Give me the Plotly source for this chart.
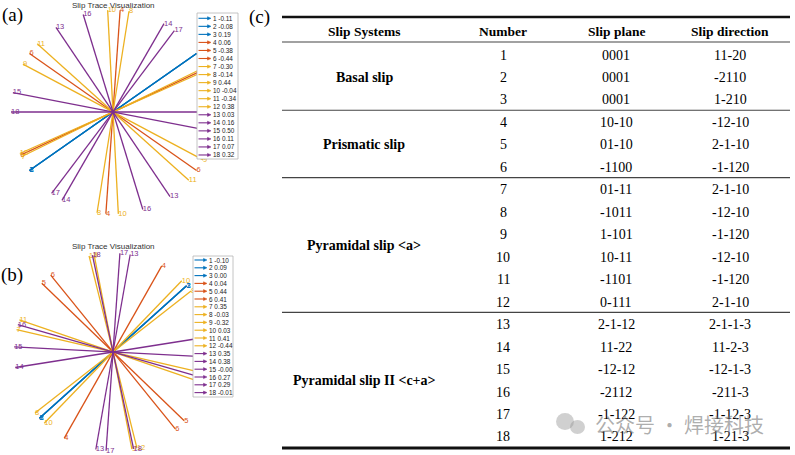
import numpy as np
import plotly.graph_objects as go

W, H = 795, 455

# ---------------- data ----------------
systems = [str(i) for i in range(1, 19)]
family = ["basal"] * 3 + ["prism"] * 3 + ["pyr_a"] * 6 + ["pyr_ca"] * 6
family_colors = {"basal": "#0072BD", "prism": "#D95319", "pyr_a": "#EDB120", "pyr_ca": "#7E2F8E"}

# trace angles (deg) (a) and (b)
angles_a = [35, 35, 35, 86, 25, 145, 26, 81, 152, 93, 138, 24, 124, 60, 169, 107, 53, 180]
schmid_a = ["-0.11", "-0.08", "0.19", "0.06", "-0.38", "-0.44", "-0.30", "-0.14", "0.44",
            "-0.04", "-0.34", "0.38", "0.03", "0.16", "0.50", "0.11", "0.07", "0.32"]
angles_b = [42, 42, 42, 60.5, 136, 129, 167, 38, 101, 46, 161, 104, 80, 9, 177, 164, 86, 102]
schmid_b = ["-0.10", "0.09", "0.00", "0.04", "0.44", "0.41", "0.35", "-0.03", "-0.32",
            "0.03", "0.41", "-0.44", "0.35", "0.38", "-0.00", "0.27", "0.29", "-0.01"]

table_header = ["Slip Systems", "Number", "Slip plane", "Slip direction"]
table_groups = ["Basal slip", "Prismatic slip", "Pyramidal slip &lt;a&gt;", "Pyramidal slip II &lt;c+a&gt;"]
group_sizes = [3, 3, 6, 6]
slip_planes = ["0001", "0001", "0001", "10-10", "01-10", "-1100", "01-11", "-1011", "1-101",
               "10-11", "-1101", "0-111", "2-1-12", "11-22", "-12-12", "-2112", "-1-122", "1-212"]
slip_dirs = ["11-20", "-2110", "1-210", "-12-10", "2-1-10", "-1-120", "2-1-10", "-12-10", "-1-120",
             "-12-10", "-1-120", "2-1-10", "2-1-1-3", "11-2-3", "-12-1-3", "-211-3", "-1-12-3", "1-21-3"]

# ---------------- helpers ----------------
def px(x):
    return x / W

def py(y):
    return 1 - y / H

fig = go.Figure()
shapes = []
annos = []

SANS = "Liberation Sans"
SERIF = "Liberation Serif"


def panel(angles, schmid, axn, box, center, scale, legbox, leg_y0, leg_dy, title_y):
    px0, px1, py0, py1 = box
    cx, cy = center
    xa = "x" if axn == 1 else "x%d" % axn
    ya = "y" if axn == 1 else "y%d" % axn
    lay_x = "xaxis" if axn == 1 else "xaxis%d" % axn
    lay_y = "yaxis" if axn == 1 else "yaxis%d" % axn
    fig.layout[lay_x] = dict(domain=[px(px0), px(px1)],
                             range=[(px0 - cx) / scale, (px1 - cx) / scale],
                             visible=False, fixedrange=True)
    fig.layout[lay_y] = dict(domain=[py(py1), py(py0)],
                             range=[(cy - py1) / scale, (cy - py0) / scale],
                             visible=False, fixedrange=True)
    for i, (ang, s) in enumerate(zip(angles, schmid)):
        c = family_colors[family[i]]
        t = np.deg2rad(ang)
        ex, ey = np.cos(t), np.sin(t)
        fig.add_trace(go.Scatter(x=[-ex, ex], y=[-ey, ey], mode="lines",
                                 line=dict(color=c, width=1.3), xaxis=xa, yaxis=ya,
                                 showlegend=False, hoverinfo="skip", cliponaxis=False))
        fig.add_trace(go.Scatter(x=[-ex, ex], y=[-ey, ey], mode="text",
                                 text=[systems[i], systems[i]], textposition="middle right",
                                 textfont=dict(family=SANS, size=7.5, color=c),
                                 xaxis=xa, yaxis=ya, showlegend=False, hoverinfo="skip",
                                 cliponaxis=False))
    # title
    annos.append(dict(x=px(cx), y=py(title_y), xref="paper", yref="paper",
                      text="Slip Trace Visualization", showarrow=False,
                      font=dict(family=SANS, size=8, color="#333333"),
                      xanchor="center", yanchor="middle"))
    # legend (drawn manually)
    lx0, lx1, ly0, ly1 = legbox
    shapes.append(dict(type="rect", xref="paper", yref="paper", layer="above",
                       x0=px(lx0), x1=px(lx1), y0=py(ly1), y1=py(ly0),
                       fillcolor="white", line=dict(color="#b5b5b5", width=0.8)))
    for i, s in enumerate(schmid):
        c = family_colors[family[i]]
        yy = leg_y0 + i * leg_dy
        a0, a1 = lx0 + 1.5, lx0 + 14
        shapes.append(dict(type="line", xref="paper", yref="paper", layer="above",
                           x0=px(a0), x1=px(a1 - 2), y0=py(yy), y1=py(yy),
                           line=dict(color=c, width=1.1)))
        shapes.append(dict(type="path", xref="paper", yref="paper", layer="above",
                           path="M %f,%f L %f,%f L %f,%f Z" % (px(a1 - 3.5), py(yy - 1.6),
                                                               px(a1), py(yy),
                                                               px(a1 - 3.5), py(yy + 1.6)),
                           fillcolor=c, line=dict(color=c, width=0.5)))
        annos.append(dict(x=px(a1 + 0.3), y=py(yy), xref="paper", yref="paper",
                          text="%s %s" % (systems[i], s), showarrow=False,
                          font=dict(family=SANS, size=6.4, color="#222222"),
                          xanchor="left", yanchor="middle"))


panel(angles_a, schmid_a, 1, (0, 250, 0, 228), (113, 112), 102,
      (197, 238, 13, 159), 18.3, 8.04, 5.5)
panel(angles_b, schmid_b, 2, (0, 250, 234, 455), (113, 352), 99,
      (193, 233, 256, 397), 260, 7.8, 247)

# panel letters
for txt, x, y in [("(a)", 12, 15), ("(b)", 12, 275), ("(c)", 259, 17)]:
    annos.append(dict(x=px(x), y=py(y), xref="paper", yref="paper", text=txt,
                      showarrow=False, font=dict(family=SERIF, size=19, color="black"),
                      xanchor="center", yanchor="middle"))

# ---------------- table (c) ----------------
TX0, TX1 = 282, 790
col_x = [364, 503, 616, 730]
header_y = 32
row_y0, row_dy = 55, 22.47
for txt, x in zip(table_header, col_x):
    annos.append(dict(x=px(x), y=py(header_y), xref="paper", yref="paper",
                      text="<b>%s</b>" % txt, showarrow=False,
                      font=dict(family=SERIF, size=13.5, color="black"),
                      xanchor="center", yanchor="middle"))
for i in range(18):
    yy = row_y0 + i * row_dy
    for txt, x in zip([systems[i], slip_planes[i], slip_dirs[i]], col_x[1:]):
        annos.append(dict(x=px(x), y=py(yy), xref="paper", yref="paper", text=txt,
                          showarrow=False, font=dict(family=SERIF, size=14, color="black"),
                          xanchor="center", yanchor="middle"))
start = 0
for g, n in zip(table_groups, group_sizes):
    ymid = row_y0 + (start + (n - 1) / 2) * row_dy
    annos.append(dict(x=px(col_x[0]), y=py(ymid), xref="paper", yref="paper",
                      text="<b>%s</b>" % g, showarrow=False,
                      font=dict(family=SERIF, size=14, color="black"),
                      xanchor="center", yanchor="middle"))
    start += n
    if start < 18:
        yl = row_y0 + (start - 0.5) * row_dy - 1
        shapes.append(dict(type="line", xref="paper", yref="paper",
                           x0=px(TX0), x1=px(TX1), y0=py(yl), y1=py(yl),
                           line=dict(color="#444444", width=1.1)))
for yl, w in [(17, 2.6), (42, 1.1), (448, 2.8)]:
    shapes.append(dict(type="line", xref="paper", yref="paper",
                       x0=px(TX0), x1=px(TX1), y0=py(yl), y1=py(yl),
                       line=dict(color="#111111" if w > 2 else "#444444", width=w)))

# watermark
shapes.append(dict(type="circle", xref="paper", yref="paper", layer="above",
                   x0=px(556), x1=px(574), y0=py(430), y1=py(413),
                   fillcolor="rgba(150,150,150,0.45)", line=dict(width=0)))
shapes.append(dict(type="circle", xref="paper", yref="paper", layer="above",
                   x0=px(570), x1=px(585), y0=py(434), y1=py(420),
                   fillcolor="rgba(150,150,150,0.45)", line=dict(width=0)))
annos.append(dict(x=px(679), y=py(424), xref="paper", yref="paper",
                  text="公众号 · 焊接科技", showarrow=False,
                  font=dict(family="Noto Sans CJK SC", size=20, color="rgba(120,120,120,0.6)"),
                  xanchor="center", yanchor="middle"))

fig.update_layout(width=W, height=H, margin=dict(l=0, r=0, t=0, b=0),
                  paper_bgcolor="white", plot_bgcolor="white",
                  shapes=shapes, annotations=annos, showlegend=False)
fig.write_html("out.html", config={"displayModeBar": False},
               post_script="document.body.style.margin='0px';document.body.style.padding='0px';")
